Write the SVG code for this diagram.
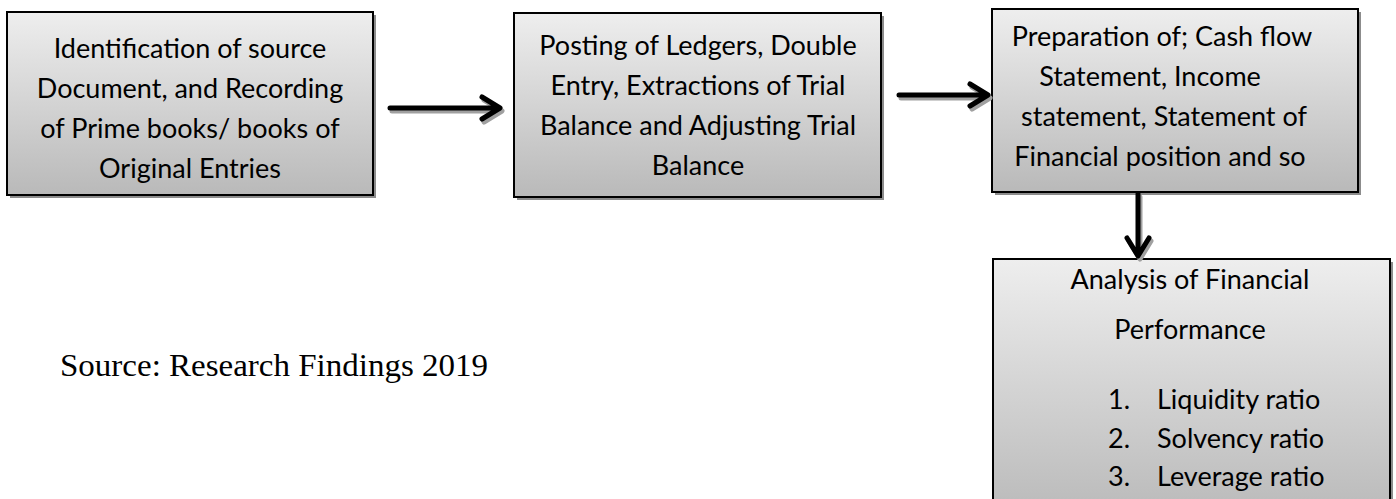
<svg xmlns="http://www.w3.org/2000/svg" width="1396" height="499" viewBox="0 0 1396 499">
<defs>
<linearGradient id="boxGrad" x1="0" y1="0" x2="0" y2="1">
<stop offset="0" stop-color="#eeeeee"/>
<stop offset="1" stop-color="#b9b9b9"/>
</linearGradient>
<style>
.shadow{fill:#8c8c8c;}
.box{fill:url(#boxGrad);stroke:#000;stroke-width:2;}
.t{font-family:Lato,"Open Sans","Liberation Sans",sans-serif;font-size:27px;fill:#000;text-anchor:middle;}
.tl{font-family:Lato,"Open Sans","Liberation Sans",sans-serif;font-size:27px;fill:#000;}
.src{font-family:"Liberation Serif","DejaVu Serif",serif;font-size:32px;fill:#000;}
.ash{fill:none;stroke:#a0a0a0;stroke-width:5;stroke-linecap:round;stroke-linejoin:round;}
.arr{fill:none;stroke:#000;stroke-width:5;stroke-linecap:round;stroke-linejoin:round;}
</style>
</defs>
<rect width="1396" height="499" fill="#fff"/>

<g id="node-identification">
<rect class="shadow" x="10" y="15" width="366" height="183"/>
<rect class="box" x="7" y="12" width="366" height="183"/>
<text class="t" x="190" y="58">Identification of source</text>
<text class="t" x="190" y="98">Document, and Recording</text>
<text class="t" x="190" y="138">of Prime books/ books of</text>
<text class="t" x="190" y="178">Original Entries</text>
</g>

<g id="node-posting">
<rect class="shadow" x="517" y="16" width="367" height="184"/>
<rect class="box" x="514" y="13" width="367" height="184"/>
<text class="t" x="698" y="55">Posting of Ledgers, Double</text>
<text class="t" x="698" y="95">Entry, Extractions of Trial</text>
<text class="t" x="698" y="135">Balance and Adjusting Trial</text>
<text class="t" x="698" y="175">Balance</text>
</g>

<g id="node-preparation">
<rect class="shadow" x="995" y="12" width="366" height="183"/>
<rect class="box" x="992" y="9" width="366" height="183"/>
<text class="t" x="1162" y="46">Preparation of; Cash flow</text>
<text class="t" x="1150" y="86">Statement, Income</text>
<text class="t" x="1164" y="126">statement, Statement of</text>
<text class="t" x="1160" y="166">Financial position and so</text>
</g>

<g id="node-analysis">
<rect class="shadow" x="996" y="262" width="397" height="260"/>
<rect class="box" x="993" y="259" width="397" height="260"/>
<text class="t" x="1190" y="289">Analysis of Financial</text>
<text class="t" x="1190" y="339">Performance</text>
<text class="tl" x="1108" y="409">1.</text>
<text class="tl" x="1157" y="409">Liquidity ratio</text>
<text class="tl" x="1108" y="448">2.</text>
<text class="tl" x="1157" y="448">Solvency ratio</text>
<text class="tl" x="1108" y="486">3.</text>
<text class="tl" x="1157" y="486">Leverage ratio</text>
</g>

<g id="connectors">
<g transform="translate(2,3)">
<path class="ash" d="M390 108 H499 M482 97 L500 108 L482 119"/>
<path class="ash" d="M899 95 H987 M970 84 L988 95 L970 106"/>
<path class="ash" d="M1138 194 V255 M1127 238 L1138 256 L1149 238"/>
</g>
<path class="arr" d="M390 108 H499 M482 97 L500 108 L482 119"/>
<path class="arr" d="M899 95 H987 M970 84 L988 95 L970 106"/>
<path class="arr" d="M1138 194 V255 M1127 238 L1138 256 L1149 238"/>
</g>

<text class="src" x="60" y="376" textLength="428" lengthAdjust="spacingAndGlyphs">Source: Research Findings 2019</text>
</svg>
